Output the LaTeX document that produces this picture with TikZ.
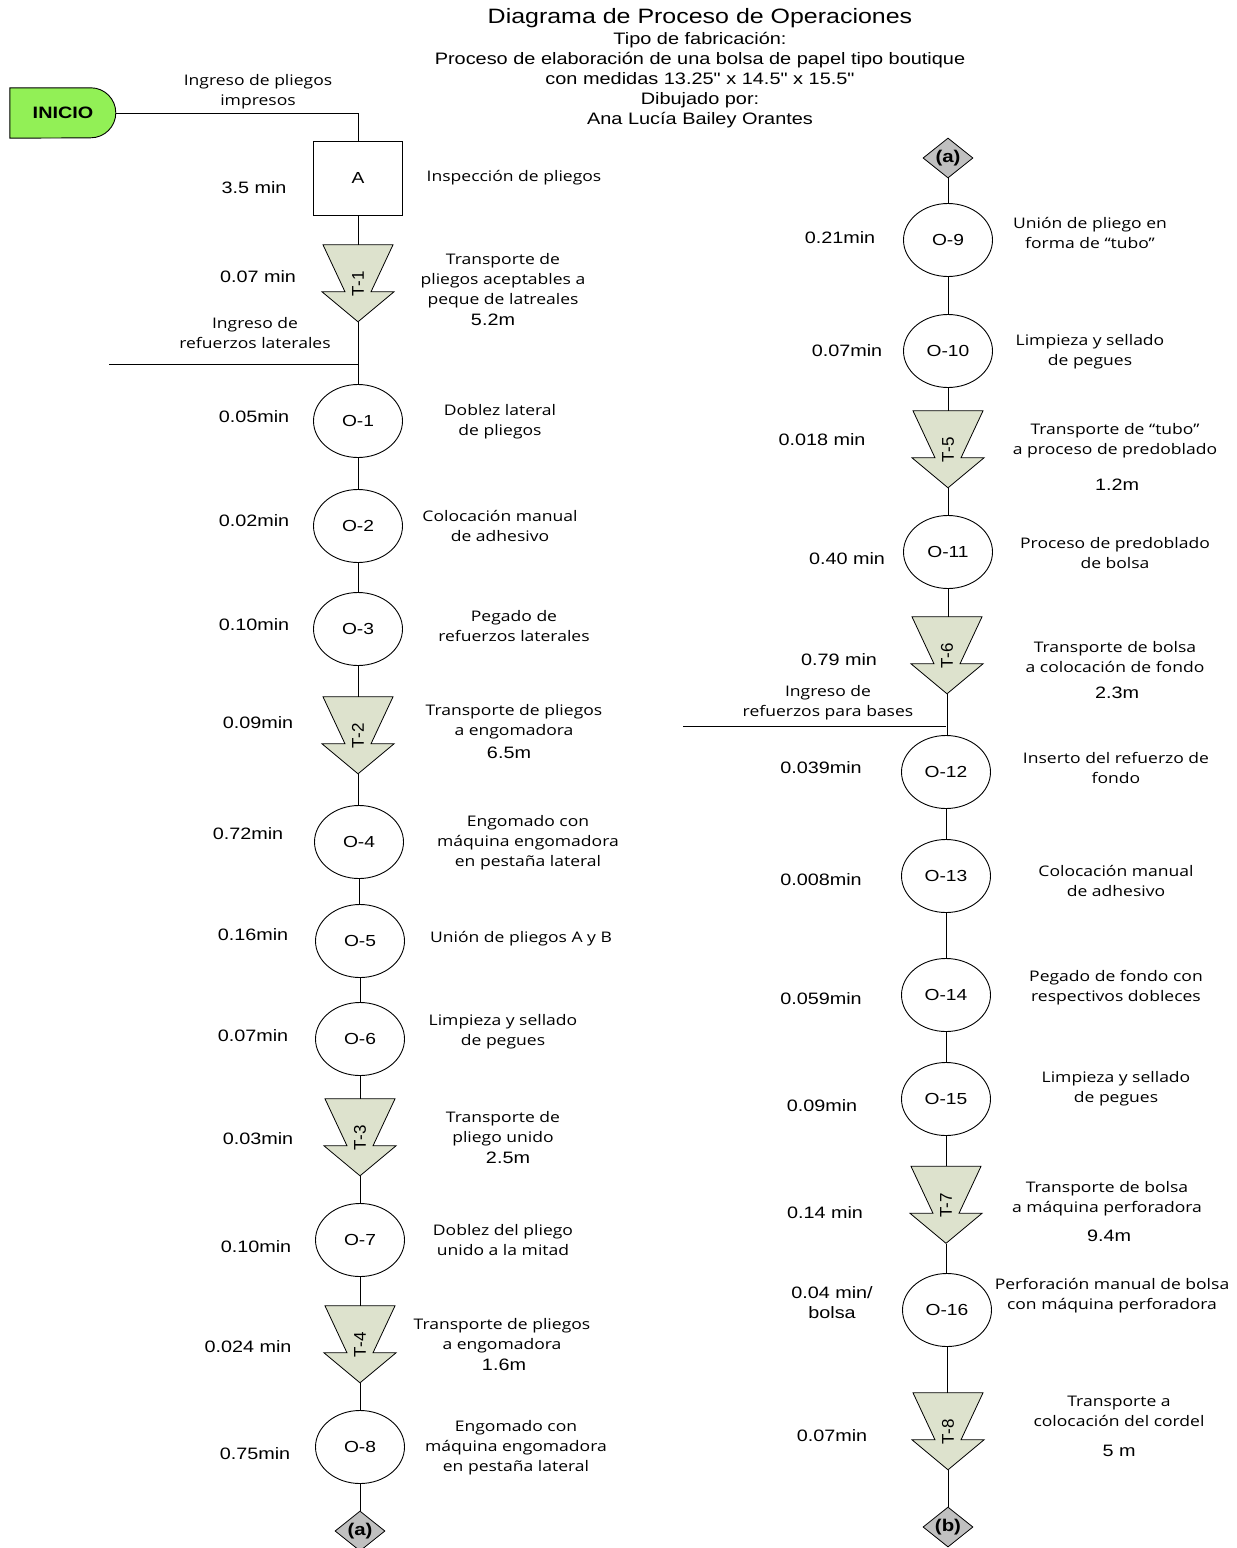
\documentclass[tikz,border=0pt]{standalone}
\usepackage{fontspec}
\setmainfont{Liberation Sans}[FakeStretch=1.2, Ligatures=TeXOff]
\newfontfamily\descfont{Open Sans}[FakeStretch=1.2]
\newfontfamily\tlabfont{Liberation Sans}
\usetikzlibrary{shapes.geometric,backgrounds}
\definecolor{startgreen}{RGB}{146,240,86}
\definecolor{transpfill}{RGB}{221,226,205}
\definecolor{connfill}{RGB}{192,192,192}
\tikzset{
  timelbl/.style={font=\fontsize{16.5}{20}\selectfont, inner sep=0, align=center},
  distlbl/.style={font=\fontsize{16.5}{20}\selectfont, inner sep=0},
  desc/.style={font=\descfont\fontsize{14.6}{20}\selectfont, align=center, inner sep=0},
  opnode/.style={ellipse, draw, line width=0.9pt, minimum width=89, minimum height=73,
    inner sep=0, font=\fontsize{16}{19}\selectfont},
  inspnode/.style={rectangle, draw, line width=0.9pt, minimum width=89, minimum height=74,
    inner sep=0, font=\fontsize{16}{19}\selectfont},
  tbox/.style={rectangle, minimum width=72, minimum height=77, inner sep=0},
  tshape/.style={draw, line width=0.8pt, fill=transpfill, line join=miter},
  tlab/.style={font=\tlabfont\fontsize{17}{20}\selectfont, inner sep=0},
  connector/.style={diamond, draw, line width=0.8pt, fill=connfill, aspect=1.25,
    minimum width=50, minimum height=40, inner sep=0,
    font=\bfseries\fontsize{17}{19}\selectfont},
  flow/.style={line width=0.9pt},
}
% transport symbol: name, position, label
\newcommand\transp[3]{%
  \node[tbox] (#1) at (#2) {};
  \begin{scope}[shift={(#1.north)}]
    \draw[tshape] (-35,0) -- (35,0) -- (13,47) -- (36,47) -- (0,77)
      -- (-36,47) -- (-13,47) -- cycle;
    \node[tlab, rotate=90] (#1-l) at (0,39) {#3};
  \end{scope}}
% vertical flow line leaving the lower side of one symbol towards the next
\newcommand\flowline[2]{\draw[flow] (#1.south) -- (#1.south |- #2.north);}
\begin{document}
\begin{tikzpicture}[x=1pt,y=-1pt]
\useasboundingbox (0,0) rectangle (1237,1548);

% heading
\node[inner sep=0, font=\fontsize{20.8}{24}\selectfont] (title) at (700,18)
  {Diagrama de Proceso de Operaciones};
\node[inner sep=0, align=center, font=\fontsize{16.6}{20}\selectfont] (subtitle) at (700,80)
  {Tipo de fabricación:\\Proceso de elaboración de una bolsa de papel tipo boutique\\
   con medidas 13.25" x 14.5" x 15.5"\\Dibujado por:\\Ana Lucía Bailey Orantes};

% ---------------- left column ----------------
\node[minimum width=106, minimum height=50, inner sep=0,
      font=\bfseries\fontsize{16.5}{19}\selectfont] (inicio) at (63,113) {INICIO};
\begin{scope}[on background layer]
  \draw[line width=0.9pt, fill=startgreen] (inicio.north west) -- ++(81,0)
    arc[start angle=-90, end angle=90, radius=25] -- (inicio.south west) -- cycle;
\end{scope}
\node[desc] (in0-t) at (258,92) {Ingreso de pliegos\\impresos};

\node[inspnode] (A) at (358,178) {A};
\node[timelbl] (A-t) at (254,188) {3.5 min};
\node[desc] (A-d) at (514,178) {Inspección de pliegos};

\transp{t1}{358,283.5}{T-1}
\node[timelbl] (t1-t) at (258,277) {0.07 min};
\node[desc] (t1-d) at (503,281) {Transporte de\\pliegos aceptables a\\peque de latreales};
\node[distlbl] (t1-m) at (493,320) {5.2m};

\node[desc] (in1-t) at (255,333) {Ingreso de\\refuerzos laterales};
\coordinate (in1) at (109,364);

\node[opnode] (o1) at (358,421) {O-1};
\node[timelbl] (o1-t) at (254,417) {0.05min};
\node[desc] (o1-d) at (500,422) {Doblez lateral\\de pliegos};

\node[opnode] (o2) at (358,526) {O-2};
\node[timelbl] (o2-t) at (254,521) {0.02min};
\node[desc] (o2-d) at (500,526) {Colocación manual\\de adhesivo};

\node[opnode] (o3) at (358,629) {O-3};
\node[timelbl] (o3-t) at (254,625) {0.10min};
\node[desc] (o3-d) at (514,626) {Pegado de\\refuerzos laterales};

\transp{t2}{358,735.5}{T-2}
\node[timelbl] (t2-t) at (258,723) {0.09min};
\node[desc] (t2-d) at (514,722) {Transporte de pliegos\\a engomadora};
\node[distlbl] (t2-m) at (509,753) {6.5m};

\node[opnode] (o4) at (359,842) {O-4};
\node[timelbl] (o4-t) at (248,834) {0.72min};
\node[desc] (o4-d) at (528,843) {Engomado con\\máquina engomadora\\en pestaña lateral};

\node[opnode] (o5) at (360,941) {O-5};
\node[timelbl] (o5-t) at (253,935) {0.16min};
\node[desc] (o5-d) at (521,939) {Unión de pliegos A y B};

\node[opnode] (o6) at (360,1039) {O-6};
\node[timelbl] (o6-t) at (253,1036) {0.07min};
\node[desc] (o6-d) at (503,1032) {Limpieza y sellado\\de pegues};

\transp{t3}{360,1137.5}{T-3}
\node[timelbl] (t3-t) at (258,1139) {0.03min};
\node[desc] (t3-d) at (503,1129) {Transporte de\\pliego unido};
\node[distlbl] (t3-m) at (508,1158) {2.5m};

\node[opnode] (o7) at (360,1240) {O-7};
\node[timelbl] (o7-t) at (256,1247) {0.10min};
\node[desc] (o7-d) at (503,1240) {Doblez del pliego\\unido a la mitad};

\transp{t4}{360,1344.5}{T-4}
\node[timelbl] (t4-t) at (248,1347) {0.024 min};
\node[desc] (t4-d) at (502,1336) {Transporte de pliegos\\a engomadora};
\node[distlbl] (t4-m) at (504,1365) {1.6m};

\node[opnode] (o8) at (360,1447) {O-8};
\node[timelbl] (o8-t) at (255,1454) {0.75min};
\node[desc] (o8-d) at (516,1448) {Engomado con\\máquina engomadora\\en pestaña lateral};

\node[connector] (ca) at (360,1531) {(a)};

% ---------------- right column ----------------
\node[connector] (ca2) at (948,158) {(a)};

\node[opnode] (o9) at (948,240) {O-9};
\node[timelbl] (o9-t) at (840,238) {0.21min};
\node[desc] (o9-d) at (1090,233) {Unión de pliego en\\forma de “tubo”};

\node[opnode] (o10) at (948,351) {O-10};
\node[timelbl] (o10-t) at (847,351) {0.07min};
\node[desc] (o10-d) at (1090,352) {Limpieza y sellado\\de pegues};

\transp{t5}{948,449.5}{T-5}
\node[timelbl] (t5-t) at (822,440) {0.018 min};
\node[desc] (t5-d) at (1115,441) {Transporte de “tubo”\\a proceso de predoblado};
\node[distlbl] (t5-m) at (1117,485) {1.2m};

\node[opnode] (o11) at (948,552) {O-11};
\node[timelbl] (o11-t) at (847,559) {0.40 min};
\node[desc] (o11-d) at (1115,553) {Proceso de predoblado\\de bolsa};

\transp{t6}{947,655.5}{T-6}
\node[timelbl] (t6-t) at (839,660) {0.79 min};
\node[desc] (t6-d) at (1115,657) {Transporte de bolsa\\a colocación de fondo};
\node[distlbl] (t6-m) at (1117,693) {2.3m};

\node[desc] (in2-t) at (828,703) {Ingreso de\\refuerzos para bases};
\coordinate (in2) at (683,726);

\node[opnode] (o12) at (946,772) {O-12};
\node[timelbl] (o12-t) at (821,768) {0.039min};
\node[desc] (o12-d) at (1116,768) {Inserto del refuerzo de\\fondo};

\node[opnode] (o13) at (946,876) {O-13};
\node[timelbl] (o13-t) at (821,880) {0.008min};
\node[desc] (o13-d) at (1116,881) {Colocación manual\\de adhesivo};

\node[opnode] (o14) at (946,995) {O-14};
\node[timelbl] (o14-t) at (821,999) {0.059min};
\node[desc] (o14-d) at (1116,988) {Pegado de fondo con\\respectivos dobleces};

\node[opnode] (o15) at (946,1099) {O-15};
\node[timelbl] (o15-t) at (822,1106) {0.09min};
\node[desc] (o15-d) at (1116,1089) {Limpieza y sellado\\de pegues};

\transp{t7}{946,1205}{T-7}
\node[timelbl] (t7-t) at (825,1213) {0.14 min};
\node[desc] (t7-d) at (1107,1199) {Transporte de bolsa\\a máquina perforadora};
\node[distlbl] (t7-m) at (1109,1236) {9.4m};

\node[opnode] (o16) at (947,1310) {O-16};
\node[timelbl] (o16-t) at (832,1303) {0.04 min/\\bolsa};
\node[desc] (o16-d) at (1112,1296) {Perforación manual de bolsa\\con máquina perforadora};

\transp{t8}{948,1431.5}{T-8}
\node[timelbl] (t8-t) at (832,1436) {0.07min};
\node[desc] (t8-d) at (1119,1411) {Transporte a\\colocación del cordel};
\node[distlbl] (t8-m) at (1119,1451) {5 m};

\node[connector] (cb) at (948,1527) {(b)};

% ---------------- flow lines ----------------
\draw[flow] (inicio.east) -| (A.north);
\flowline{A}{t1}
\flowline{t1}{o1}
\draw[flow] (in1) -- (in1 -| o1.north);
\flowline{o1}{o2}
\flowline{o2}{o3}
\flowline{o3}{t2}
\flowline{t2}{o4}
\flowline{o4}{o5}
\flowline{o5}{o6}
\flowline{o6}{t3}
\flowline{t3}{o7}
\flowline{o7}{t4}
\flowline{t4}{o8}
\flowline{o8}{ca}

\flowline{ca2}{o9}
\flowline{o9}{o10}
\flowline{o10}{t5}
\flowline{t5}{o11}
\flowline{o11}{t6}
\flowline{t6}{o12}
\draw[flow] (in2) -- (in2 -| o12.north);
\flowline{o12}{o13}
\flowline{o13}{o14}
\flowline{o14}{o15}
\flowline{o15}{t7}
\flowline{t7}{o16}
\flowline{o16}{t8}
\flowline{t8}{cb}
\end{tikzpicture}
\end{document}
